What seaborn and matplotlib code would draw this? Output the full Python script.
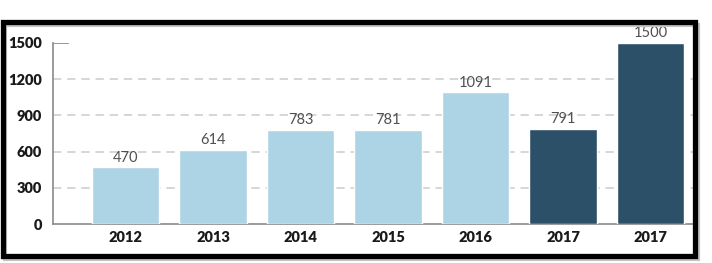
import matplotlib
matplotlib.use("Agg")
import matplotlib.pyplot as plt
import seaborn as sns
import pandas as pd
from matplotlib.patches import Rectangle

years = ["2012", "2013", "2014", "2015", "2016", "2017", "2017"]
values = [470, 614, 783, 781, 1091, 791, 1500]
groups = ["past", "past", "past", "past", "past", "future", "future"]
yticks = [0, 300, 600, 900, 1200, 1500]
colors = {"past": "#acd4e4", "future": "#2d5069"}

df = pd.DataFrame({"pos": list(range(len(years))), "value": values, "group": groups})

sns.set_theme(style="white")
plt.rcParams["font.family"] = ["Lato", "DejaVu Sans"]

fig = plt.figure(figsize=(7.12, 2.63), dpi=100)
ax = fig.add_axes([53/712, 39/263, (696-53)/712, 181/263])

sns.barplot(data=df, x="pos", y="value", hue="group", palette=colors,
            dodge=False, legend=False, width=0.77, saturation=1, ax=ax, zorder=3)

ax.set_ylim(0, 1500)
ax.set_xlim(-0.83, 6.52)
ax.set_yticks(yticks)
ax.set_yticklabels([str(t) for t in yticks], fontsize=10.5, fontweight="heavy", color="#1a1a1a")
ax.set_xticks(range(len(years)))
ax.set_xticklabels(years, fontsize=10.5, fontweight="heavy", color="#1a1a1a")
ax.tick_params(axis="y", length=0, pad=8)
ax.tick_params(axis="x", length=0, pad=5)
ax.set_xlabel("")
ax.set_ylabel("")

for t in yticks[1:-1]:
    ax.axhline(t, color="#d0d0d0", lw=1.2, ls=(0, (5, 3.5)), zorder=1)
ax.hlines(1500, 0, 0.025, transform=ax.get_yaxis_transform(), color="#888888", lw=1.2)

for s in ["top", "right"]:
    ax.spines[s].set_visible(False)
for s in ["left", "bottom"]:
    ax.spines[s].set_color("#8a8a8a")
    ax.spines[s].set_linewidth(1.2)

for p, v in zip(df["pos"], df["value"]):
    ax.annotate(str(v), (p, v), xytext=(0, 2), textcoords="offset points",
                ha="center", va="bottom", fontsize=10.5, color="#505050", fontweight="normal")

# outer frame with shadow
fig.patches.append(Rectangle((5/712, 4/263), 693/712, 234/263, transform=fig.transFigure,
                             fill=False, ec="#c4c4c4", lw=3, zorder=0))
fig.patches.append(Rectangle((2.5/712, 7/263), 692/712, 234/263, transform=fig.transFigure,
                             fill=False, ec="black", lw=3.8, zorder=10))

fig.savefig("out.png", dpi=100)
